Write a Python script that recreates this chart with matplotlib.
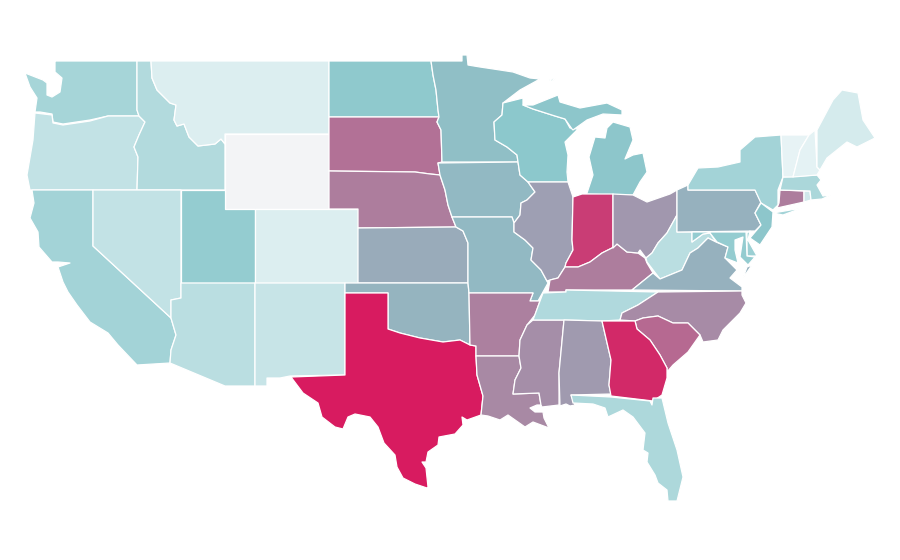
import matplotlib
matplotlib.use('Agg')
import matplotlib.pyplot as plt
from matplotlib.colors import LinearSegmentedColormap, Normalize
from matplotlib.patches import Polygon

# State values as read from the fill colours (no key on the map, scale is 0-100)
states = ['WA', 'OR', 'CA', 'ID', 'NV', 'MT', 'WY', 'UT', 'AZ', 'CO', 'NM', 'ND', 'SD', 'NE', 'KS', 'OK', 'TX',
          'MN', 'IA', 'MO', 'AR', 'LA', 'WI', 'IL', 'MS', 'MI', 'IN', 'KY', 'TN', 'AL', 'OH', 'WV', 'VA', 'NC',
          'SC', 'GA', 'FL', 'PA', 'NY', 'NJ', 'DE', 'MD', 'CT', 'RI', 'MA', 'VT', 'NH', 'ME']
values = [30, 19, 31, 25, 19, 9, 0, 37, 22, 9, 17, 39, 70, 66, 50, 47, 100,
          43, 45, 45, 65, 62, 40, 54, 60, 41, 88, 66, 26, 56, 57, 22, 48, 61,
          73, 95, 27, 48, 31, 41, 34, 37, 66, 14, 28, 5, 6, 12]

color_stops = [(0.0, '#f3f4f6'), (0.05, '#e6f3f5'), (0.4, '#8cc8cc'), (1.0, '#d81b60')]

# Outlines in map units, one or more rings per state
outlines = {
    'WA': [[(54, 61), (137, 61), (137, 110), (139, 116), (108, 116), (90, 120), (63, 124), (53, 122), (52, 114),
            (40, 112), (35, 112), (37, 98), (30, 87), (25, 73), (43, 80), (47, 83), (47, 95), (52, 97), (60, 92),
            (62, 78), (55, 72), (55, 62)]],
    'OR': [[(35, 113), (52, 115), (53, 123), (63, 125), (90, 121), (108, 116), (139, 116), (145, 122), (139, 135),
            (134, 147), (138, 157), (137, 190), (30, 190), (27, 175), (33, 140)]],
    'CA': [[(32, 190), (93, 190), (93, 246), (171, 318), (176, 335), (171, 350), (170, 363), (137, 365), (118, 345),
            (108, 333), (90, 322), (77, 305), (68, 292), (63, 282), (58, 267), (70, 263), (58, 262), (52, 262),
            (39, 247), (38, 232), (30, 218), (34, 203)]],
    'ID': [[(137, 61), (151, 61), (152, 78), (157, 90), (170, 103), (176, 105), (174, 120), (177, 126), (184, 124),
            (189, 137), (198, 146), (215, 144), (221, 139), (225, 144), (225, 190), (137, 190), (138, 157),
            (134, 147), (139, 135), (145, 122), (139, 116), (137, 110)]],
    'NV': [[(93, 190), (181, 190), (181, 298), (171, 300), (171, 318), (93, 246)]],
    'MT': [[(151, 61), (329, 61), (329, 134), (225, 134), (225, 144), (221, 139), (215, 144), (198, 146), (189, 137),
            (184, 124), (177, 126), (174, 120), (176, 105), (170, 103), (157, 90), (152, 78)]],
    'WY': [[(225, 134), (329, 134), (329, 209), (225, 209)]],
    'UT': [[(181, 190), (225, 190), (225, 209), (255, 209), (255, 283), (181, 283)]],
    'AZ': [[(181, 283), (255, 283), (255, 386), (225, 386), (170, 363), (171, 350), (176, 335), (171, 318),
            (171, 300), (181, 298)]],
    'CO': [[(255, 209), (358, 209), (358, 283), (255, 283)]],
    'NM': [[(255, 283), (345, 283), (345, 375), (290, 376), (280, 378), (267, 378), (267, 386), (255, 386)]],
    'ND': [[(329, 61), (431, 61), (433, 75), (436, 90), (438, 110), (439, 117), (329, 117)]],
    'SD': [[(329, 117), (439, 117), (437, 122), (441, 130), (442, 162), (438, 163), (440, 175), (430, 174),
            (415, 172), (329, 171)]],
    'NE': [[(329, 171), (415, 172), (430, 174), (440, 175), (445, 190), (448, 205), (452, 217), (456, 227),
            (358, 228), (358, 209), (329, 209)]],
    'KS': [[(358, 228), (456, 227), (463, 231), (468, 243), (468, 283), (358, 283)]],
    'OK': [[(345, 283), (468, 283), (469, 293), (470, 345), (460, 340), (443, 342), (420, 338), (400, 333),
            (388, 329), (388, 293), (345, 293)]],
    'TX': [[(345, 293), (388, 293), (388, 329), (400, 333), (420, 338), (443, 342), (460, 340), (470, 345),
            (476, 346), (476, 356), (477, 375), (483, 396), (481, 415), (467, 420), (462, 417), (463, 425),
            (455, 434), (439, 437), (438, 445), (428, 452), (426, 462), (422, 462), (426, 468), (428, 487),
            (427, 488), (415, 484), (403, 478), (397, 467), (395, 455), (384, 443), (378, 427), (370, 417),
            (355, 414), (348, 417), (343, 429), (335, 427), (322, 417), (318, 403), (303, 393), (291, 377),
            (345, 375)]],
    'MN': [[(431, 61), (462, 61), (462, 55), (467, 55), (468, 65), (480, 67), (500, 70), (513, 72), (530, 78),
            (540, 79), (520, 90), (503, 103), (502, 115), (494, 122), (495, 140), (507, 147), (517, 155), (518, 162),
            (442, 162), (441, 130), (437, 122), (439, 117), (438, 110), (436, 90), (433, 75)]],
    'IA': [[(438, 163), (518, 162), (520, 175), (528, 182), (535, 192), (527, 200), (521, 203), (520, 215),
            (514, 223), (512, 217), (452, 217), (448, 205), (445, 190), (440, 175)]],
    'MO': [[(452, 217), (512, 217), (514, 223), (514, 232), (525, 240), (533, 248), (531, 260), (541, 270),
            (548, 283), (543, 292), (538, 301), (530, 301), (533, 293), (469, 293), (468, 283), (468, 243),
            (463, 231), (456, 227)]],
    'AR': [[(469, 293), (533, 293), (530, 301), (540, 301), (535, 315), (527, 325), (520, 340), (519, 356),
            (476, 356), (476, 346), (470, 345)]],
    'LA': [[(476, 356), (519, 356), (521, 368), (515, 380), (513, 394), (539, 393), (541, 405), (537, 405),
            (530, 408), (535, 412), (543, 412), (544, 418), (549, 428), (533, 422), (525, 427), (508, 415),
            (500, 420), (488, 416), (481, 415), (483, 396), (477, 375)]],
    'WI': [[(503, 103), (523, 98), (523, 105), (533, 109), (555, 116), (565, 119), (570, 128), (578, 129), (565, 142),
            (568, 155), (567, 172), (568, 182), (528, 182), (520, 175), (518, 162), (517, 155), (507, 147),
            (495, 140), (494, 122), (502, 115)]],
    'IL': [[(528, 182), (568, 182), (573, 197), (572, 240), (573, 250), (566, 263), (565, 267), (558, 278),
            (550, 280), (547, 281), (541, 270), (531, 260), (533, 248), (525, 240), (514, 232), (514, 223),
            (520, 215), (521, 203), (527, 200), (535, 192)]],
    'MS': [[(533, 320), (564, 320), (559, 373), (559, 405), (542, 407), (541, 405), (539, 393), (513, 394),
            (515, 380), (521, 368), (519, 356), (520, 340), (527, 325)]],
    'MI': [[(613, 195), (633, 195), (640, 182), (647, 172), (643, 153), (633, 155), (625, 159), (633, 140),
            (630, 127), (613, 122), (607, 128), (605, 138), (595, 137), (589, 157), (593, 175), (587, 193),
            (582, 194)],
           [(523, 105), (533, 105), (558, 95), (560, 102), (580, 108), (607, 103), (622, 110),
            (622, 115), (603, 114), (587, 120), (573, 130), (572, 129), (565, 119), (555, 116), (533, 109)],
           [(549, 80), (556, 78), (552, 81)]],
    'IN': [[(573, 197), (582, 194), (613, 194), (613, 248), (612, 248), (602, 253), (590, 262), (578, 267),
            (565, 267), (566, 263), (573, 250), (572, 240)]],
    'KY': [[(548, 292), (550, 280), (558, 278), (565, 267), (578, 267), (590, 262), (602, 253), (612, 248),
            (617, 244), (627, 252), (638, 253), (645, 258), (647, 263), (653, 273), (632, 290), (566, 290),
            (566, 292)]],
    'TN': [[(543, 293), (566, 292), (566, 290), (658, 292), (638, 305), (622, 313), (620, 320), (602, 321),
            (564, 320), (533, 320), (540, 301)]],
    'AL': [[(564, 320), (602, 321), (611, 360), (609, 385), (611, 394), (571, 395), (575, 405), (570, 406),
            (566, 404), (560, 406), (559, 373)]],
    'OH': [[(613, 194), (633, 195), (647, 202), (670, 194), (677, 190), (677, 215), (667, 233), (658, 243),
            (652, 253), (646, 258), (640, 250), (638, 253), (627, 252), (617, 244), (613, 248)]],
    'WV': [[(677, 215), (677, 232), (692, 232), (692, 242), (703, 234), (710, 233), (716, 242), (708, 238),
            (698, 248), (690, 253), (682, 270), (660, 279), (647, 262), (646, 258), (652, 253), (658, 243),
            (667, 233)]],
    'VA': [[(632, 290), (653, 273), (660, 279), (682, 270), (690, 253), (698, 248), (708, 238), (716, 242),
            (728, 247), (725, 258), (737, 270), (730, 278), (742, 287), (742, 291)],
           [(752, 265), (743, 278), (747, 267)]],
    'NC': [[(658, 292), (742, 291), (742, 295), (746, 303), (740, 313), (733, 320), (723, 330), (718, 340),
            (703, 342), (700, 335), (688, 323), (673, 323), (658, 316), (643, 318), (635, 321), (620, 320),
            (622, 313), (638, 305)]],
    'SC': [[(635, 321), (643, 318), (658, 316), (673, 323), (688, 323), (700, 335), (688, 352), (673, 365),
            (667, 372), (667, 368), (660, 355), (650, 340), (637, 329)]],
    'GA': [[(602, 321), (635, 321), (637, 329), (650, 340), (660, 355), (667, 368), (667, 378), (662, 395),
            (653, 401), (611, 396), (609, 385), (611, 360)]],
    'FL': [[(571, 395), (611, 397), (650, 401), (652, 405), (653, 398), (662, 398), (668, 423), (677, 450),
            (683, 477), (677, 501), (668, 501), (667, 490), (658, 483), (655, 475), (647, 462), (648, 453),
            (643, 450), (645, 433), (633, 417), (623, 410), (608, 417), (605, 408), (593, 404), (573, 403)]],
    'PA': [[(677, 190), (688, 185), (688, 190), (755, 190), (761, 202), (755, 213), (761, 225), (755, 231),
            (677, 232)]],
    'NY': [[(688, 185), (698, 168), (718, 167), (740, 162), (740, 150), (755, 137), (781, 135), (783, 177),
            (778, 190), (778, 205), (773, 210), (761, 203), (755, 190), (688, 190)],
           [(773, 213), (802, 208), (783, 215)]],
    'NJ': [[(761, 203), (773, 212), (772, 227), (760, 245), (750, 238), (761, 225), (755, 213)]],
    'DE': [[(747, 233), (750, 231), (748, 240), (757, 256), (747, 256)]],
    'MD': [[(692, 232), (746, 232), (747, 256), (755, 257), (748, 265), (740, 257), (743, 237), (735, 240),
            (735, 250), (738, 263), (725, 258), (728, 247), (717, 242), (710, 233), (703, 234), (692, 242)]],
    'CT': [[(780, 190), (804, 191), (804, 202), (777, 208), (779, 203)]],
    'RI': [[(804, 191), (810, 191), (811, 200), (804, 202)]],
    'MA': [[(783, 177), (817, 175), (821, 180), (817, 185), (823, 196), (831, 195), (822, 199), (811, 200),
            (810, 191), (780, 190)]],
    'VT': [[(781, 135), (809, 135), (800, 150), (793, 177), (783, 177)]],
    'NH': [[(809, 135), (815, 130), (817, 167), (820, 170), (817, 175), (793, 177), (800, 150)]],
    'ME': [[(817, 130), (833, 100), (842, 90), (858, 93), (863, 120), (875, 138), (857, 147), (847, 142),
            (827, 158), (820, 170), (817, 167)]],
}

cmap = LinearSegmentedColormap.from_list('teal_pink', color_stops)
norm = Normalize(vmin=0, vmax=100)

fig = plt.figure(figsize=(9, 5.6), dpi=100)
ax = fig.add_axes([0, 0, 1, 1])

for state, value in zip(states, values):
    for ring in outlines[state]:
        ax.add_patch(Polygon(ring, closed=True, facecolor=cmap(norm(value)),
                             edgecolor='white', linewidth=0.9, joinstyle='round'))

ax.set_xlim(0, 900)
ax.set_ylim(560, 0)
ax.axis('off')

fig.savefig('out.png', dpi=100, facecolor='white')
